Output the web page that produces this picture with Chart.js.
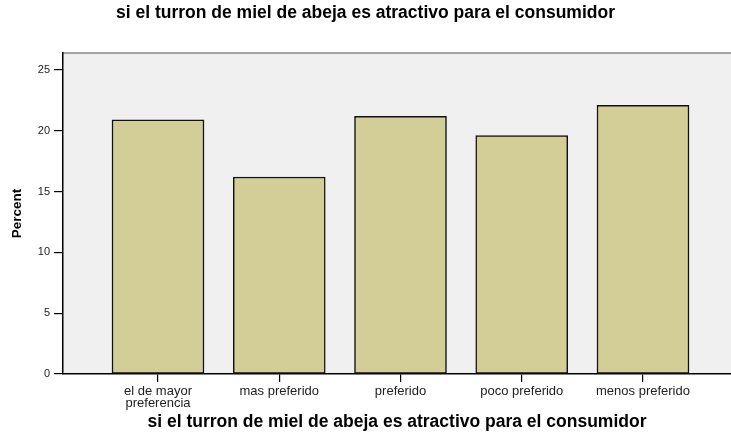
<!DOCTYPE html>
<html>
<head>
<meta charset="utf-8">
<script src="https://cdn.jsdelivr.net/npm/chart.js@4/dist/chart.umd.min.js"></script>
<style>
  html, body { margin: 0; padding: 0; background: #ffffff; }
  #wrap { width: 731px; height: 435px; }
</style>
</head>
<body>
<div id="wrap"><canvas id="c" width="731" height="435"></canvas></div>
<script>
const titleText = 'si el turron de miel de abeja es atractivo para el consumidor';
const xAxisLabel = 'si el turron de miel de abeja es atractivo para el consumidor';
const categories = [['el de mayor', 'preferencia'], 'mas preferido', 'preferido', 'poco preferido', 'menos preferido'];
const percentValues = [20.9, 16.2, 21.2, 19.6, 22.1];
const yTickValues = [0, 5, 10, 15, 20, 25];
const yAxisLabel = 'Percent';

const FONT = "'Liberation Sans', Arial, Helvetica, sans-serif";

const bgPlugin = {
  id: 'plotBg',
  beforeDraw(chart) {
    const { ctx, chartArea: a } = chart;
    ctx.save();
    ctx.fillStyle = '#f0f0f0';
    ctx.fillRect(a.left, a.top, a.right - a.left, a.bottom - a.top);
    ctx.strokeStyle = '#8a8a8a';
    ctx.lineWidth = 1.5;
    ctx.beginPath();
    ctx.moveTo(a.left, a.top);
    ctx.lineTo(a.right, a.top);
    ctx.stroke();
    ctx.restore();
  }
};

new Chart(document.getElementById('c'), {
  type: 'bar',
  data: {
    datasets: [{
      data: categories.map((c, i) => ({ x: i, y: percentValues[i] })),
      backgroundColor: '#d3ce97',
      borderColor: '#111111',
      borderWidth: 1.5,
      borderSkipped: false,
      barThickness: 92
    }]
  },
  options: {
    responsive: false,
    animation: false,
    layout: { padding: 0 },
    plugins: {
      legend: { display: false },
      tooltip: { enabled: false },
      title: {
        display: true,
        text: titleText,
        color: '#000',
        font: { family: FONT, size: 17.5, weight: 'bold', lineHeight: 1.2 },
        padding: { top: 2.5, bottom: 29.5 }
      }
    },
    scales: {
      x: {
        type: 'linear',
        offset: false,
        min: -0.7835,
        max: 4.7258,
        afterBuildTicks(scale) { scale.ticks = categories.map((_, i) => ({ value: i })); },
        afterFit(scale) { scale.height = 61; },
        grid: { display: true, offset: false, drawOnChartArea: false, drawTicks: true, tickLength: 8, color: '#000', lineWidth: 1.2 },
        border: { display: true, color: '#000', width: 1.5 },
        ticks: {
          autoSkip: false,
          maxRotation: 0,
          padding: 3,
          color: '#222',
          font: { family: FONT, size: 13, lineHeight: 0.92 },
          callback: (v) => categories[v]
        },
        title: {
          display: true,
          text: xAxisLabel,
          color: '#000',
          font: { family: FONT, size: 17.5, weight: 'bold', lineHeight: 1.2 },
          padding: { top: 0, bottom: 2.5 }
        }
      },
      y: {
        min: 0,
        max: 26.4,
        afterBuildTicks(scale) { scale.ticks = yTickValues.map(v => ({ value: v })); },
        afterFit(scale) { scale.width = 63; },
        grid: { display: true, drawOnChartArea: false, drawTicks: true, tickLength: 9, color: '#000', lineWidth: 1.2 },
        border: { display: true, color: '#000', width: 1.5 },
        ticks: {
          padding: 4,
          color: '#222',
          font: { family: FONT, size: 11 },
          callback: (v) => String(v)
        },
        title: {
          display: true,
          text: yAxisLabel,
          color: '#000',
          font: { family: FONT, size: 13.5, weight: 'bold', lineHeight: 1.2 },
          padding: { top: 9, bottom: 0 }
        }
      }
    }
  },
  plugins: [bgPlugin]
});
</script>
</body>
</html>
